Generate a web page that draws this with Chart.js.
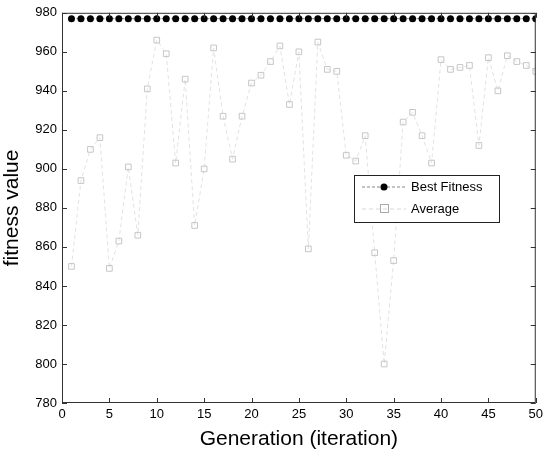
<!DOCTYPE html>
<html>
<head>
<meta charset="utf-8">
<script src="https://cdn.jsdelivr.net/npm/chart.js@4.4.1/dist/chart.umd.min.js"></script>
<style>
  html, body { margin: 0; padding: 0; background: #fff; }
  #wrap { width: 547px; height: 456px; position: relative; }
</style>
</head>
<body>
<div id="wrap"><canvas id="c"></canvas></div>
<script>
const generations = [1, 2, 3, 4, 5, 6, 7, 8, 9, 10,
  11, 12, 13, 14, 15, 16, 17, 18, 19, 20,
  21, 22, 23, 24, 25, 26, 27, 28, 29, 30,
  31, 32, 33, 34, 35, 36, 37, 38, 39, 40,
  41, 42, 43, 44, 45, 46, 47, 48, 49, 50];

const bestFitness = [977, 977, 977, 977, 977, 977, 977, 977, 977, 977,
  977, 977, 977, 977, 977, 977, 977, 977, 977, 977,
  977, 977, 977, 977, 977, 977, 977, 977, 977, 977,
  977, 977, 977, 977, 977, 977, 977, 977, 977, 977,
  977, 977, 977, 977, 977, 977, 977, 977, 977, 977];

const average = [850, 894, 910, 916, 849, 863, 901, 866, 941, 966,
  959, 903, 946, 871, 900, 962, 927, 905, 927, 944,
  948, 955, 963, 933, 960, 859, 965, 951, 950, 907,
  904, 917, 857, 800, 853, 924, 929, 917, 903, 956,
  951, 952, 953, 912, 957, 940, 958, 955, 953, 950];

const xTicks = [0, 5, 10, 15, 20, 25, 30, 35, 40, 45, 50];
const yTicks = [780, 800, 820, 840, 860, 880, 900, 920, 940, 960, 980];
const seriesNames = ['Best Fitness', 'Average'];

const font = 'Arial, "Liberation Sans", Helvetica, sans-serif';

// matlab style box with inward ticks on all four sides + legend
const boxPlugin = {
  id: 'box',
  afterDraw(chart) {
    const { ctx, chartArea: a, scales } = chart;
    ctx.save();
    ctx.strokeStyle = '#333';
    ctx.lineWidth = 1;
    ctx.strokeRect(a.left + 0.5, a.top + 0.5, a.right - a.left - 1, a.bottom - a.top - 1);
    ctx.beginPath();
    xTicks.forEach(v => {
      const px = Math.round(scales.x.getPixelForValue(v)) + 0.5;
      ctx.moveTo(px, a.bottom); ctx.lineTo(px, a.bottom - 5);
      ctx.moveTo(px, a.top); ctx.lineTo(px, a.top + 5);
    });
    yTicks.forEach(v => {
      const py = Math.round(scales.y.getPixelForValue(v)) + 0.5;
      ctx.moveTo(a.left, py); ctx.lineTo(a.left + 5, py);
      ctx.moveTo(a.right, py); ctx.lineTo(a.right - 5, py);
    });
    ctx.stroke();

    // legend
    const lx = 354, ly = 175, lw = 145, lh = 47;
    ctx.fillStyle = '#fff';
    ctx.fillRect(lx, ly, lw, lh);
    ctx.strokeStyle = '#222';
    ctx.strokeRect(lx + 0.5, ly + 0.5, lw, lh);
    const r1 = ly + 12, r2 = ly + 34;
    ctx.strokeStyle = '#888';
    ctx.setLineDash([3, 2]);
    ctx.beginPath();
    ctx.moveTo(362, r1); ctx.lineTo(406, r1);
    ctx.stroke();
    ctx.strokeStyle = '#d8d8d8';
    ctx.setLineDash([4, 3]);
    ctx.beginPath();
    ctx.moveTo(362, r2); ctx.lineTo(406, r2);
    ctx.stroke();
    ctx.setLineDash([]);
    ctx.fillStyle = '#000';
    ctx.beginPath();
    ctx.arc(384, r1, 3.5, 0, Math.PI * 2);
    ctx.fill();
    ctx.strokeStyle = '#aaa';
    ctx.strokeRect(380.5, r2 - 4.5, 8, 8);
    ctx.fillStyle = '#000';
    ctx.font = '13px ' + font;
    ctx.textBaseline = 'middle';
    ctx.fillText(seriesNames[0], 411, r1);
    ctx.fillText(seriesNames[1], 411, r2);
    ctx.restore();
  }
};

new Chart(document.getElementById('c'), {
  type: 'line',
  data: {
    datasets: [
      {
        label: seriesNames[0],
        data: generations.map((g, i) => ({ x: g, y: bestFitness[i] })),
        borderColor: '#888',
        borderWidth: 1,
        borderDash: [3, 2],
        pointStyle: 'circle',
        pointRadius: 3.5,
        pointBackgroundColor: '#000',
        pointBorderColor: '#000',
        pointBorderWidth: 0,
      },
      {
        label: seriesNames[1],
        data: generations.map((g, i) => ({ x: g, y: average[i] })),
        borderColor: '#e2e2e2',
        borderWidth: 1,
        borderDash: [4, 3],
        pointStyle: 'rect',
        pointRadius: 4,
        pointBackgroundColor: 'rgba(0,0,0,0)',
        pointBorderColor: '#c6c6c6',
        pointBorderWidth: 1,
      },
    ],
  },
  options: {
    responsive: true,
    maintainAspectRatio: false,
    animation: false,
    layout: { padding: { left: 0, right: 8, top: 8, bottom: 0 } },
    plugins: {
      legend: { display: false },
      tooltip: { enabled: false },
    },
    scales: {
      x: {
        type: 'linear',
        min: 0, max: 50,
        afterBuildTicks: s => { s.ticks = xTicks.map(v => ({ value: v })); },
        afterFit: s => { s.height = 53; },
        ticks: { font: { family: font, size: 13 }, color: '#000', padding: 4, maxRotation: 0 },
        grid: { display: false, drawTicks: false },
        border: { display: false },
        title: { display: true, text: 'Generation (iteration)', color: '#000',
          font: { family: font, size: 21 }, padding: { top: 0, bottom: 4 } },
      },
      y: {
        type: 'linear',
        min: 780, max: 980,
        afterBuildTicks: s => { s.ticks = yTicks.map(v => ({ value: v })); },
        afterFit: s => { s.width = 62; },
        ticks: { font: { family: font, size: 13 }, color: '#000', padding: 5 },
        grid: { display: false, drawTicks: false },
        border: { display: false },
        title: { display: true, text: 'fitness value', color: '#000',
          font: { family: font, size: 21 }, padding: { top: 0, bottom: 0 } },
      },
    },
  },
  plugins: [boxPlugin],
});
</script>
</body>
</html>
